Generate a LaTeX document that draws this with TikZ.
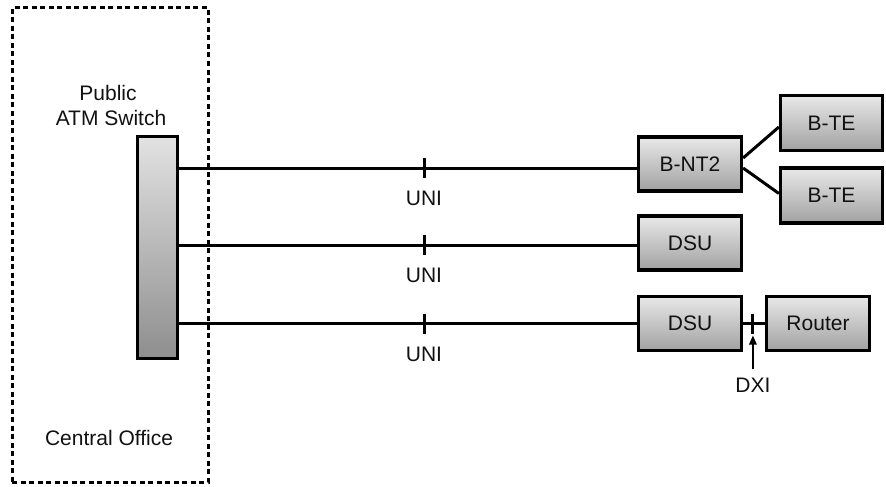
\documentclass[tikz,border=0pt]{standalone}
\usepackage{fontspec}
\setmainfont{Liberation Sans}
\usetikzlibrary{arrows.meta,calc}
\definecolor{boxtop}{HTML}{E8E8E8}
\definecolor{boxbot}{HTML}{A2A2A2}
\definecolor{swtop}{HTML}{E2E2E2}
\definecolor{swbot}{HTML}{8E8E8E}
\definecolor{txt}{HTML}{111111}
\begin{document}
\begin{tikzpicture}[x=1pt,y=-1pt,
  font=\fontsize{21}{25}\selectfont,
  devbox/.style={draw=black, line width=3.2pt, top color=boxtop, bottom color=boxbot,
    minimum width=103pt, minimum height=54pt, inner sep=0pt, text=txt},
  conn/.style={line width=3pt},
  lbl/.style={anchor=base, inner sep=0pt, text=txt}]
\useasboundingbox (0,0) rectangle (886,487);

% central office container
\node[draw, dash pattern=on 5pt off 3.5pt, line width=3pt, minimum width=196pt,
  minimum height=474pt, inner sep=0pt] (co) at (110,245) {};
\node[lbl] (pub) at (108,100) {Public};
\node[lbl] (atm) at (111,125) {ATM Switch};
\node[lbl] (cof) at (109,445) {Central Office};

% switch
\node[draw=black, line width=3.2pt, top color=swtop, bottom color=swbot,
  minimum width=40pt, minimum height=222pt, inner sep=0pt] (sw) at (157.5,247.5) {};

% devices
\node[devbox] (bnt2) at (690,164) {B-NT2};
\node[devbox, minimum width=102pt, minimum height=55pt] (bte1) at (831.5,123) {B-TE};
\node[devbox, minimum width=102pt, minimum height=55pt] (bte2) at (831.5,195.5) {B-TE};
\node[devbox] (dsu1) at (690,243) {DSU};
\node[devbox] (dsu2) at (690,323.5) {DSU};
\node[devbox] (rt) at (818,323.5) {Router};

% line entry points
\coordinate (in1) at ($(bnt2.west)+(0,4)$);
\coordinate (in2) at ($(dsu1.west)+(0,2)$);
\coordinate (in3) at (dsu2.west);

\draw[conn] (sw.east |- in1) -- (in1);
\draw[conn] (sw.east |- in2) -- (in2);
\draw[conn] (sw.east |- in3) -- (in3);

\draw[conn] ($(bnt2.east)+(0,-6)$) -- ($(bte1.west)+(0,4)$);
\draw[conn] ($(bnt2.east)+(0,4)$) -- ($(bte2.west)+(0,-2)$);

% UNI labels and ticks
\node[lbl] (uni1) at (424,205) {UNI};
\node[lbl] (uni2) at (424,282) {UNI};
\node[lbl] (uni3) at (424,361) {UNI};
\draw[conn] (uni1.north |- in1) ++(0,-10) -- ++(0,20);
\draw[conn] (uni2.north |- in2) ++(0,-10) -- ++(0,20);
\draw[conn] (uni3.north |- in3) ++(0,-10) -- ++(0,20);

% DSU - Router with DXI
\draw[conn] (dsu2.east) -- (rt.west);
\coordinate (dxim) at ($(dsu2.east)!0.45!(rt.west)$);
\draw[conn] (dxim) ++(0,-10) -- ++(0,20);
\node[lbl] (dxi) at (dxim |- 0,392) {DXI};
\draw[line width=1.3pt, -{Triangle[length=9pt,width=7.5pt]}]
  ($(dxi.north)+(0,-8)$) -- ($(dxim)+(0,12)$);
\end{tikzpicture}
\end{document}
